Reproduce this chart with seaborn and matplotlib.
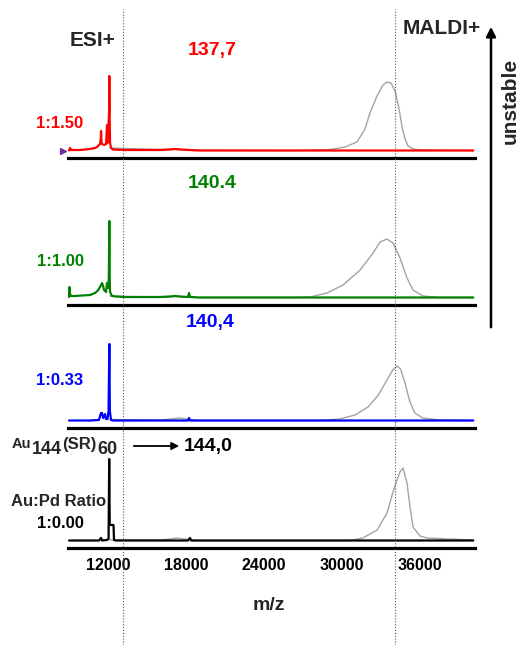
import numpy as np
import pandas as pd
import matplotlib
matplotlib.use("Agg")
import matplotlib.pyplot as plt
import seaborn as sns
from matplotlib.patches import FancyArrowPatch

# ---------------- data (m/z, intensity) ----------------
red_mz = [9000, 9080, 9160, 9850, 10600, 11000, 11150, 11380, 11440, 11462, 11500, 11540, 11690, 11850,
          11923, 11960, 12040, 12080, 12100, 12130, 12154, 12231, 12385, 13300, 16000, 16770, 17150,
          17540, 19000, 40100]
red_int = [0.5, 3, 1, 1, 2, 3, 4, 7, 12, 20, 9, 7, 6, 7,
           26, 8, 26, 40, 75, 30, 8, 3, 1.5, 1, 1, 1.5, 2,
           1.5, 0.5, 0.5]

green_mz = [9000, 9030, 9077, 9154, 9460, 10000, 10615, 11000, 11250, 11385, 11538, 11620, 11692, 11846,
            11923, 12000, 12060, 12100, 12130, 12154, 12308, 12600, 13300, 16000, 16770, 17150, 17540,
            18150, 18231, 18310, 19000, 40100]
green_int = [1, 11, 4, 2, 2, 2.5, 3, 5, 8, 11, 15, 12, 8, 6,
             15, 10, 20, 77, 20, 6, 2, 1.5, 1, 1, 1.5, 2, 1.5,
             1, 5, 1, 0.5, 0.5]

blue_mz = [9000, 10600, 11300, 11462, 11540, 11620, 11692, 11770, 11846, 11960, 12040, 12100, 12140,
           12231, 12400, 18150, 18231, 18310, 40100]
blue_int = [0.5, 0.5, 1, 8, 8, 3, 4, 7, 2, 2, 10, 77, 10,
            1, 0.5, 0.5, 3, 0.5, 0.5]

black_mz = [9000, 11300, 11462, 11540, 11900, 12040, 12090, 12130, 12420, 12460, 12600, 18150, 18308,
            18400, 40100]
black_int = [0.5, 0.5, 3, 0.5, 1, 2, 82, 16, 16, 1, 0.5, 0.5, 3,
             0.5, 0.5]

gray1_mz = [12150, 13300, 16000, 17150, 17540, 19000, 25200, 26770, 29080, 30230, 31150, 31770, 32150,
            32690, 33150, 33460, 33770, 34080, 34390, 34620, 34850, 35080, 35460, 36000, 40100]
gray1_int = [3, 2.5, 1.5, 2, 1.5, 0.8, 0.5, 0.5, 1.5, 4, 9, 22, 38,
             55, 66, 69, 68, 60, 42, 24, 12, 5, 2, 1, 0.5]

gray2_mz = [12150, 13300, 16000, 17150, 19000, 26000, 27540, 28850, 30080, 31390, 32390, 32920, 33460,
            33920, 34460, 35000, 35460, 36230, 37540, 40100]
gray2_int = [2, 1.5, 1, 1.5, 0.5, 0.5, 1, 5, 13, 28, 45, 56, 59,
             55, 40, 20, 8, 2, 0.5, 0.5]

gray3_mz = [12150, 16000, 16800, 17500, 18000, 19000, 28300, 29800, 31000, 32000, 32800, 33500, 33900,
            34230, 34500, 34850, 35200, 35600, 36200, 37500, 40100]
gray3_int = [1.5, 1, 2, 3, 2, 0.5, 0.5, 2, 6, 14, 26, 42, 51,
             55, 52, 38, 20, 8, 3, 1, 0.5]

gray4_mz = [12150, 16000, 16800, 17300, 17800, 19000, 30600, 31600, 32700, 33460, 33920, 34230, 34460,
            34690, 35000, 35230, 35460, 36000, 36540, 38080, 40100]
gray4_int = [1, 1, 2, 3, 2, 0.5, 0.5, 3, 11, 28, 49, 61, 69,
             73, 58, 34, 14, 5, 3, 2, 1]

ratio_labels = ["1:1.50", "1:1.00", "1:0.33", "1:0.00"]
size_labels = ["137,7", "140.4", "140,4", "144,0"]
xtick_values = [12000, 18000, 24000, 30000, 36000]
marker_mz = [13150, 34080]

# ---------------- figure ----------------
sns.set_theme(style="white")
plt.rcParams['font.family'] = ['Liberation Sans', 'DejaVu Sans']
plt.rcParams['font.weight'] = 'bold'

W, H = 519, 645
fig = plt.figure(figsize=(W / 100, H / 100), dpi=100)
fig.patch.set_facecolor("white")

XLIM = (8920, 40230)
AX_L, AX_W = 68, 407
PANEL_H = 100


def fx(x):
    return x / W


def fy(y):
    return 1 - y / H


panels = [
    (red_mz, red_int, gray1_mz, gray1_int, "#ff0000", 158),
    (green_mz, green_int, gray2_mz, gray2_int, "#008000", 305),
    (blue_mz, blue_int, gray3_mz, gray3_int, "#0000ff", 428),
    (black_mz, black_int, gray4_mz, gray4_int, "#000000", 548),
]

axes = []
for i, (emz, eint, mmz, mint, col, ybot) in enumerate(panels):
    ax = fig.add_axes([fx(AX_L), fy(ybot), fx(AX_W), PANEL_H / H])
    ax.set_facecolor("none")
    dm = pd.DataFrame({"mz": mmz, "I": mint})
    de = pd.DataFrame({"mz": emz, "I": eint})
    sns.lineplot(data=dm, x="mz", y="I", ax=ax, color="#a3a3a3", lw=1.0, estimator=None)
    sns.lineplot(data=de, x="mz", y="I", ax=ax, color=col, lw=1.6, estimator=None)
    ax.set_xlim(XLIM)
    ax.set_ylim(-7, 93)
    for s in ["top", "right", "left"]:
        ax.spines[s].set_visible(False)
    ax.spines["bottom"].set_linewidth(2.3)
    ax.spines["bottom"].set_color("black")
    ax.set_yticks([])
    ax.set_xlabel("")
    ax.set_ylabel("")
    if i < 3:
        ax.set_xticks([])
    else:
        ax.set_xticks(xtick_values)
        ax.set_xticklabels([str(v) for v in xtick_values], fontsize=11.5, fontweight="bold")
        ax.tick_params(axis="x", length=0, pad=7, colors="black")
    axes.append(ax)

# purple marker at start of top panel
axes[0].plot([8500], [0], marker=">", color="#7030a0", ms=5, clip_on=False)

# dotted reference lines across the whole figure
ax0 = fig.add_axes([fx(AX_L), 0, fx(AX_W), 1])
ax0.set_xlim(XLIM)
ax0.set_ylim(0, 1)
ax0.axis("off")
ax0.set_zorder(10)
for m in marker_mz:
    ax0.axvline(m, ymin=0, ymax=1 - 9 / H, color="#555555", lw=0.8, ls=(0, (1, 1.6)))

# labels
cols = ["#ff0000", "#008000", "#0000ff", "#000000"]
ratio_y = [123, 262, 380, 523]
size_pos = [(212, 51), (212, 184), (210, 322)]
for lbl, y, c in zip(ratio_labels, ratio_y, cols):
    fig.text(fx(60), fy(y), lbl, color=c, fontsize=12, fontweight="bold", ha="center", va="center")
for lbl, (x, y), c in zip(size_labels[:3], size_pos, cols[:3]):
    fig.text(fx(x), fy(y), lbl, color=c, fontsize=14, fontweight="bold", ha="center", va="center")
fig.text(fx(208), fy(446), size_labels[3], color="black", fontsize=14, fontweight="bold",
         ha="center", va="center")

fig.text(fx(59), fy(501), "Au:Pd Ratio", fontsize=12, fontweight="bold", ha="center", va="center")

fig.text(fx(93), fy(41), "ESI+", fontsize=15, fontweight="heavy", ha="center", va="center")
fig.text(fx(442), fy(28), "MALDI+", fontsize=15, fontweight="heavy", ha="center", va="center")
fig.text(fx(269), fy(605), "m/z", fontsize=14, fontweight="bold", ha="center", va="center")
fig.text(fx(510), fy(101), "unstable", fontsize=15, fontweight="bold", ha="center", va="center",
         rotation=90)

# Au144(SR)60 label laid out piece by piece
pieces = [("Au", 10.5, 443.5), ("144", 13, 450), ("(SR)", 12, 445), ("60", 13, 450)]
renderer = fig.canvas.get_renderer()
xcur = 12
for txt, size, yc in pieces:
    t = fig.text(fx(xcur), fy(yc), txt, fontsize=size, fontweight="bold", ha="left", va="center")
    bb = t.get_window_extent(renderer=renderer)
    xcur += bb.width + 0.5

# arrows
fig.add_artist(FancyArrowPatch((fx(131), fy(446)), (fx(182), fy(446)), transform=fig.transFigure,
                               arrowstyle="-|>", mutation_scale=11, lw=1.3, color="black"))
fig.add_artist(FancyArrowPatch((fx(491), fy(330)), (fx(491), fy(24)), transform=fig.transFigure,
                               arrowstyle="-|>", mutation_scale=14, lw=1.8, color="black"))

fig.savefig("out.png", dpi=100, facecolor="white")
